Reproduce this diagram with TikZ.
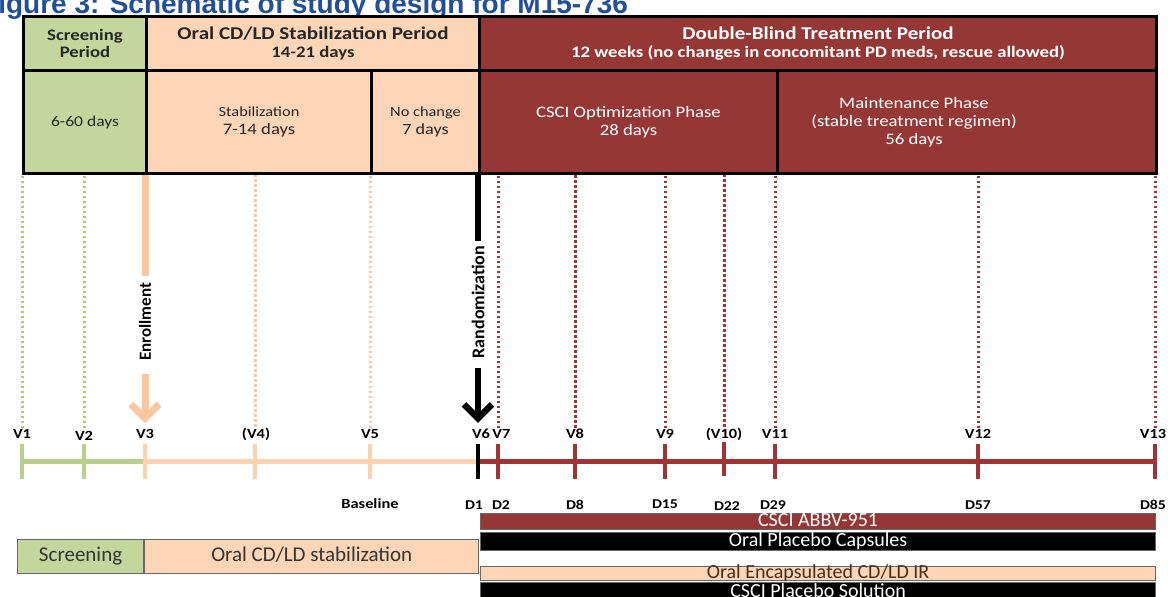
\documentclass[tikz,border=0pt]{standalone}
\usepackage{fontspec}
\setmainfont{Carlito}
\newfontfamily\widefont{Carlito}[FakeStretch=1.17]
\newfontfamily\titlefont{Liberation Sans}
\usetikzlibrary{arrows.meta,positioning}

\definecolor{scrgreen}{RGB}{195,214,155}
\definecolor{linegreen}{RGB}{184,208,140}
\definecolor{dotgreen}{RGB}{172,202,122}
\definecolor{peach}{RGB}{251,213,181}
\definecolor{linepeach}{RGB}{250,210,176}
\definecolor{dotpeach}{RGB}{248,200,165}
\definecolor{enrpeach}{RGB}{250,198,158}
\definecolor{dbred}{RGB}{149,55,53}
\definecolor{linered}{RGB}{160,52,52}
\definecolor{titleblue}{RGB}{33,80,152}
\definecolor{encaptext}{RGB}{72,46,30}

\begin{document}
\begin{tikzpicture}[x=1pt,y=-1pt,
  cell/.style={draw=black,line width=3pt,anchor=north west,inner sep=0pt,align=center,text=black!85},
  bar/.style={draw=black!60,line width=1.2pt,anchor=north west,inner sep=0pt,minimum width=675pt,text height=13pt,text depth=3pt,font=\fontsize{20}{20}\selectfont},
  vlab/.style={inner sep=1pt,font=\widefont\bfseries\fontsize{14}{14}\selectfont},
  dlab/.style={inner sep=1pt,font=\widefont\bfseries\fontsize{13.5}{14}\selectfont}]
\tikzstyle{gdots}=[dotgreen,line width=3pt,dash pattern=on 2.5pt off 2.5pt]
\tikzstyle{pdots}=[dotpeach,line width=3pt,dash pattern=on 2.5pt off 2.5pt]
\tikzstyle{rdots}=[linered,line width=3pt,dash pattern=on 2.5pt off 2.5pt]
\tikzstyle{vtick}=[line width=4pt]
\useasboundingbox (0,0) rectangle (1168,597);
\clip (0,0) rectangle (1168,597);

% title, cut by the page edge
\node[anchor=base west,inner sep=0pt,text=titleblue,font=\titlefont\bfseries\fontsize{28}{28}\selectfont] (title) at (-19,13) {Figure 3: Schematic of study design for M15-736};

% period table
\node[cell,fill=scrgreen,minimum width=123pt,minimum height=54pt,font=\widefont\bfseries\fontsize{16}{17}\selectfont] (scrhead) at (22,15) {Screening\\Period};
\node[cell,fill=peach,minimum width=333pt,minimum height=54pt,font=\widefont\bfseries\fontsize{18}{18.5}\selectfont] (oralhead) at (145,15) {Oral CD/LD Stabilization Period\\{\fontsize{16}{18}\selectfont 14-21 days}};
\node[cell,fill=dbred,text=white,minimum width=677pt,minimum height=54pt,font=\widefont\bfseries\fontsize{18}{18.5}\selectfont] (dbhead) at (478,15) {Double-Blind Treatment Period\\{\fontsize{16}{18}\selectfont 12 weeks (no changes in concomitant PD meds, rescue allowed)}};
\node[cell,fill=scrgreen,minimum width=123pt,minimum height=103pt,font=\widefont\fontsize{15}{18}\selectfont] (scrdays) at (22,69) {6-60 days};
\node[cell,fill=peach,minimum width=225pt,minimum height=103pt,font=\widefont\fontsize{16}{18}\selectfont] (stab) at (145,69) {{\fontsize{14}{18}\selectfont Stabilization}\\7-14 days};
\node[cell,fill=peach,minimum width=108pt,minimum height=103pt,font=\widefont\fontsize{15.5}{18}\selectfont] (nochg) at (370,69) {{\fontsize{14}{18}\selectfont No change}\\7 days};
\node[cell,fill=dbred,text=white,minimum width=298pt,minimum height=103pt,font=\widefont\fontsize{16}{18}\selectfont] (optim) at (478,69) {CSCI Optimization Phase\\28 days};
\node[cell,fill=dbred,minimum width=379pt,minimum height=103pt] (maint) at (776,69) {};
\node[align=center,text=white,font=\widefont\fontsize{16}{18}\selectfont] (mainttxt) at ([xshift=-53pt]maint.center) {Maintenance Phase\\(stable treatment regimen)\\56 days};

% time line
\coordinate (t1) at (22,461);
\coordinate (t2) at (84,461);
\coordinate (t3) at (145,461);
\coordinate (t4) at (255,461);
\coordinate (t5) at (370,461);
\coordinate (t6) at (478,461);
\coordinate (t7) at (498,461);
\coordinate (t8) at (575,461);
\coordinate (t9) at (665,461);
\coordinate (t10) at (724,461);
\coordinate (t11) at (775,461);
\coordinate (t12) at (978,461);
\coordinate (t13) at (1155,461);

\draw[linegreen,line width=5pt] (t1) -- (t3);
\draw[linepeach,line width=5pt] (t3) -- (t6);
\draw[linered,line width=5pt] (t6) -- (t13);

\draw[vtick,linegreen] ([yshift=17pt]t1) -- ([yshift=-18pt]t1);
\draw[vtick,linegreen] ([yshift=17pt]t2) -- ([yshift=-18pt]t2);
\draw[vtick,linepeach] ([yshift=17pt]t3) -- ([yshift=-18pt]t3);
\draw[vtick,linepeach] ([yshift=17pt]t4) -- ([yshift=-18pt]t4);
\draw[vtick,linepeach] ([yshift=17pt]t5) -- ([yshift=-18pt]t5);
\draw[vtick,black] ([yshift=17pt]t6) -- ([yshift=-18pt]t6);
\draw[vtick,linered] ([yshift=17pt]t7) -- ([yshift=-18pt]t7);
\draw[vtick,linered] ([yshift=17pt]t8) -- ([yshift=-18pt]t8);
\draw[vtick,linered] ([yshift=17pt]t9) -- ([yshift=-18pt]t9);
\draw[vtick,linered] ([yshift=19pt]t10) -- ([yshift=-15pt]t10);
\draw[vtick,linered] ([yshift=17pt]t11) -- ([yshift=-18pt]t11);
\draw[vtick,linered] ([yshift=17pt]t12) -- ([yshift=-18pt]t12);
\draw[vtick,linered] ([yshift=17pt]t13) -- ([yshift=-18pt]t13);

% visits
\node[vlab] (v1) at (22,434) {V1};
\node[vlab] (v2) at (84,436) {V2};
\node[vlab] (v3) at (145,434) {V3};
\node[vlab] (v4) at (256,434) {(V4)};
\node[vlab] (v5) at (370,434) {V5};
\node[vlab] (v6) at (481,434) {V6};
\node[vlab] (v7) [right=0pt of v6] {V7};
\node[vlab] (v8) at (575,434) {V8};
\node[vlab] (v9) at (665,434) {V9};
\node[vlab] (v10) at (724,434) {(V10)};
\node[vlab] (v11) at (775,434) {V11};
\node[vlab] (v12) at (978,434) {V12};
\node[vlab] (v13) at (1153,434) {V13};

% days
\node[dlab,font=\widefont\bfseries\fontsize{14}{14}\selectfont] (base) at (370,504) {Baseline};
\node[dlab] (d1) at (474,505) {D1};
\node[dlab] (d2) at (501,505) {D2};
\node[dlab] (d8) at (575,505) {D8};
\node[dlab] (d15) at (665,504) {D15};
\node[dlab] (d22) at (727,506.5) {D22};
\node[dlab] (d29) at (773,505.5) {D29};
\node[dlab] (d57) at (978,505) {D57};
\node[dlab] (d85) at (1153,505) {D85};

% dotted guides
\draw[gdots] (t1 |- v1.north) -- (t1 |- scrdays.south);
\draw[gdots] (t2 |- v1.north) -- (t2 |- scrdays.south);
\draw[pdots] (t4 |- v4.north) -- (t4 |- stab.south);
\draw[pdots] (t5 |- v5.north) -- (t5 |- stab.south);
\draw[rdots] (t7 |- v7.north) -- (t7 |- optim.south);
\draw[rdots] (t8 |- v8.north) -- (t8 |- optim.south);
\draw[rdots] (t9 |- v9.north) -- (t9 |- optim.south);
\draw[rdots] (t10 |- v10.north) -- (t10 |- optim.south);
\draw[rdots] (t11 |- v11.north) -- (t11 |- optim.south);
\draw[rdots] (t12 |- v12.north) -- (t12 |- maint.south);
\draw[rdots] (t13 |- v13.north) -- (t13 |- maint.south);

% enrollment and randomization
\node[rotate=90,inner sep=0pt,font=\bfseries\fontsize{17}{17}\selectfont] (enr) at (145,322) {Enrollment};
\draw[enrpeach,line width=7pt,shorten >=7pt] (t3 |- stab.south) -- (enr.east);
\draw[enrpeach,line width=7pt,shorten <=13pt,shorten >=5pt,-{Straight Barb[length=14pt,width=28pt]}] (enr.west) -- (t3 |- v3.north);
\node[rotate=90,inner sep=0pt,font=\bfseries\fontsize{18}{18}\selectfont] (rnd) at (478,302) {Randomization};
\draw[black,line width=6.5pt,shorten >=5pt] (t6 |- optim.south) -- (rnd.east);
\draw[black,line width=6.5pt,shorten <=9pt,shorten >=5pt,-{Straight Barb[length=14pt,width=28pt]}] (rnd.west) -- (t6 |- v6.north);

% treatment bars
\node[bar,fill=scrgreen,minimum width=126pt,minimum height=34pt,text=black!80,font=\fontsize{21}{21}\selectfont] (scrbar) at (17,539) {Screening};
\node[bar,fill=peach,minimum width=334pt,minimum height=34pt,text=black!80,font=\fontsize{21}{21}\selectfont,right=0pt of scrbar] (oralbar) {Oral CD/LD stabilization};
\node[bar,fill=dbred,text=white,minimum height=16.5pt] (abbv) at (480,512.5) {CSCI ABBV-951};
\node[bar,fill=black,text=white,minimum height=18.5pt] (oplac) at (480,531.5) {Oral Placebo Capsules};
\node[bar,fill=peach,text=encaptext,minimum height=14.5pt,text height=12pt,text depth=2pt] (encap) at (480,565.5) {Oral Encapsulated CD/LD IR};
\node[bar,fill=black,text=white,minimum height=20pt] (csplac) at (480,582) {CSCI Placebo Solution};
\end{tikzpicture}
\end{document}
